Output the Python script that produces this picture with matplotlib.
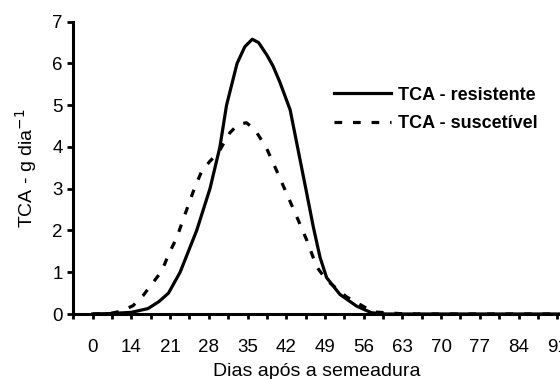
import matplotlib
matplotlib.use("Agg")
import matplotlib.pyplot as plt

# Data (days after sowing, TCA in g/day)
dias_resistente = [7, 10, 14, 17, 19, 20.7, 22.8, 25.8, 28.2, 30.0, 31.2, 33.1, 34.5,
                   35.85, 37.0, 38.5, 39.6, 40.85, 42.7, 44.5, 45.7, 46.9, 48.1, 49.3,
                   51.7, 54.7, 57.4, 60, 70, 80, 91.5]
tca_resistente = [0.0, 0.01, 0.04, 0.13, 0.3, 0.5, 1.0, 2.0, 3.0, 4.0, 5.0, 6.0, 6.4,
                  6.58, 6.5, 6.2, 5.94, 5.55, 4.89, 3.69, 2.89, 2.08, 1.36, 0.87,
                  0.47, 0.19, 0.03, 0.0, 0.0, 0.0, 0.0]

dias_suscetivel = [7, 10.1, 12.2, 14.3, 16.1, 19.5, 20.7, 22.2, 23.7, 25.2, 26.7, 28.2,
                   29.7, 31.8, 33.3, 34.8, 36.3, 38.4, 40.3, 43.9, 45.7, 47.5, 49.3,
                   52.9, 57.7, 63.7, 75, 91.5]
tca_suscetivel = [0.0, 0.01, 0.07, 0.2, 0.44, 1.03, 1.42, 1.83, 2.39, 2.94, 3.42, 3.66,
                  3.86, 4.34, 4.54, 4.58, 4.42, 3.98, 3.42, 2.33, 1.77, 1.13, 0.81,
                  0.41, 0.05, 0.0, 0.0, 0.0]

tick_pos = [7, 14, 21, 28, 35, 42, 49, 56, 63, 70, 77, 84, 91]
tick_labels = ["0", "14", "21", "28", "35", "42", "49", "56", "63", "70", "77", "84", "91"]
minor_pos = [3.5 * k for k in range(1, 27)]

plt.rcParams['font.family'] = ['Liberation Sans', 'DejaVu Sans']

fig = plt.figure(figsize=(5.6, 3.79), dpi=100)
ax = fig.add_axes([0.131, 0.1715, 0.869, 0.7712])

ax.plot(dias_resistente, tca_resistente, color='black', lw=2.3,
        solid_joinstyle='round', label='TCA - resistente')
ax.plot(dias_suscetivel, tca_suscetivel, color='black', lw=2.3,
        dashes=(2.4, 3.4), dash_capstyle='butt', label='TCA - suscetível')

ax.set_xlim(3.5, 91.5)
ax.set_ylim(0, 7)

for s in ['top', 'right']:
    ax.spines[s].set_visible(False)
for s in ['left', 'bottom']:
    ax.spines[s].set_linewidth(2.2)

ax.set_yticks(range(0, 8))
ax.tick_params(axis='y', direction='out', length=4.5, width=2.0, labelsize=13.5, pad=3)

ax.set_xticks(minor_pos, minor=True)
ax.set_xticks(tick_pos)
ax.set_xticklabels(tick_labels)
ax.tick_params(axis='x', which='both', direction='out', length=3.5, width=2.0)
ax.tick_params(axis='x', which='major', labelsize=13.5, pad=14.5)

ax.set_xlabel('Dias após a semeadura', fontsize=14, labelpad=5)
ax.set_ylabel('TCA - g dia$^{-1}$', fontsize=14, labelpad=10)

leg = ax.legend(loc='upper left', bbox_to_anchor=(0.52, 0.803), frameon=False,
                prop={'weight': 'bold', 'size': 13}, handlelength=3.2,
                handletextpad=0.35, labelspacing=0.63, borderaxespad=0)

fig.savefig('out.png', dpi=100)
